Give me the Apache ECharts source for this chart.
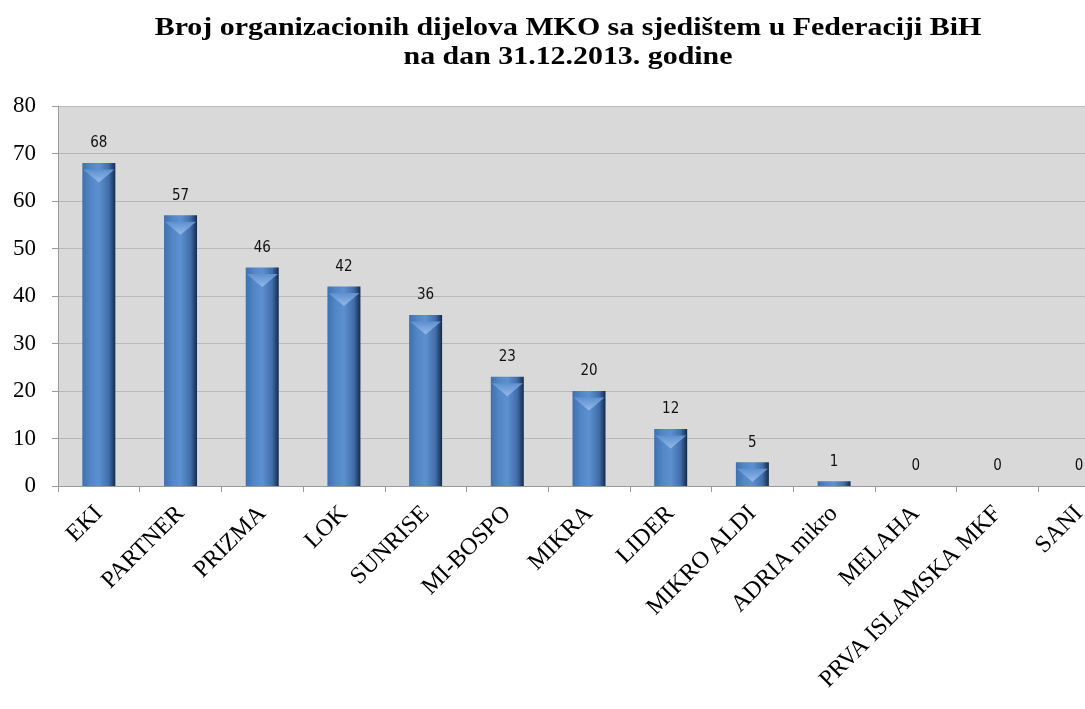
<!DOCTYPE html>
<html>
<head>
<meta charset="utf-8">
<script src="https://cdn.jsdelivr.net/npm/echarts@6/dist/echarts.min.js"></script>
<style>
  html, body { margin: 0; padding: 0; background: #fff; }
  #main { width: 1085px; height: 709px; }
</style>
</head>
<body>
<div id="main"></div>
<script>
// podaci
var categories = ['EKI', 'PARTNER', 'PRIZMA', 'LOK', 'SUNRISE', 'MI-BOSPO', 'MIKRA', 'LIDER',
  'MIKRO ALDI', 'ADRIA mikro', 'MELAHA', 'PRVA ISLAMSKA MKF', 'SANI']
var values = [68, 57, 46, 42, 36, 23, 20, 12, 5, 1, 0, 0, 0]
var yTicks = [0, 10, 20, 30, 40, 50, 60, 70, 80]
var titleLines = ['Broj organizacionih dijelova MKO sa sjedištem u Federaciji BiH', 'na dan 31.12.2013. godine']

var chart = echarts.init(document.getElementById('main'))

// naslov (malo razvucen kao u originalu)
var titleGraphic = titleLines.map(function (t, i) {
  return {
    type: 'text',
    x: 568,
    y: 15 + i * 29,
    scaleX: 1.15,
    style: {
      text: t,
      fill: '#000',
      font: 'bold 26px "Liberation Serif"',
      textAlign: 'center',
      textVerticalAlign: 'top'
    }
  }
})

var option = {
  backgroundColor: '#ffffff',
  animation: false,
  graphic: titleGraphic,
  grid: {
    left: 58,
    width: 1062,
    top: 106,
    bottom: 223,
    outerBoundsMode: 'none',
    show: true,
    backgroundColor: '#d9d9d9',
    borderWidth: 0
  },
  xAxis: {
    type: 'category',
    data: categories,
    axisLine: { lineStyle: { color: '#9a9a9a', width: 1 } },
    axisTick: { show: true, length: 6, lineStyle: { color: '#9a9a9a' } },
    axisLabel: {
      rotate: 45,
      interval: 0,
      margin: 24,
      fontFamily: 'Liberation Serif',
      fontSize: 24,
      color: '#000'
    }
  },
  yAxis: {
    type: 'value',
    min: yTicks[0],
    max: yTicks[yTicks.length - 1],
    interval: 10,
    axisLine: { show: true, lineStyle: { color: '#9a9a9a' } },
    axisTick: { show: true, length: 6, lineStyle: { color: '#9a9a9a' } },
    splitLine: { lineStyle: { color: '#b8b8b8', width: 1 } },
    axisLabel: {
      margin: 22,
      fontFamily: 'Liberation Serif',
      fontSize: 23,
      color: '#000'
    }
  },
  series: [{
    type: 'bar',
    data: values,
    barWidth: 33,
    itemStyle: {
      color: new echarts.graphic.LinearGradient(0, 0, 1, 0, [
        { offset: 0, color: '#3f70ae' },
        { offset: 0.25, color: '#5386c6' },
        { offset: 0.5, color: '#5d90d0' },
        { offset: 0.8, color: '#416ea9' },
        { offset: 1, color: '#152a4c' }
      ])
    },
    label: {
      show: true,
      position: 'top',
      distance: 12,
      fontFamily: 'DejaVu Sans Condensed',
      fontSize: 15,
      color: '#111'
    }
  }, {
    // svijetli trokut na vrhu stupca
    type: 'pictorialBar',
    data: values.map(function (v) { return v > 2 ? v : null }),
    symbol: 'triangle',
    symbolRotate: 180,
    symbolSize: [31, 13],
    symbolPosition: 'end',
    symbolOffset: [0, '50%'],
    barGap: '-100%',
    z: 3,
    itemStyle: {
      color: new echarts.graphic.LinearGradient(0, 0, 0, 1, [
        { offset: 0, color: '#93b9ea' },
        { offset: 1, color: '#5d90d0' }
      ])
    },
    silent: true
  }]
}

chart.setOption(option)
</script>
</body>
</html>
